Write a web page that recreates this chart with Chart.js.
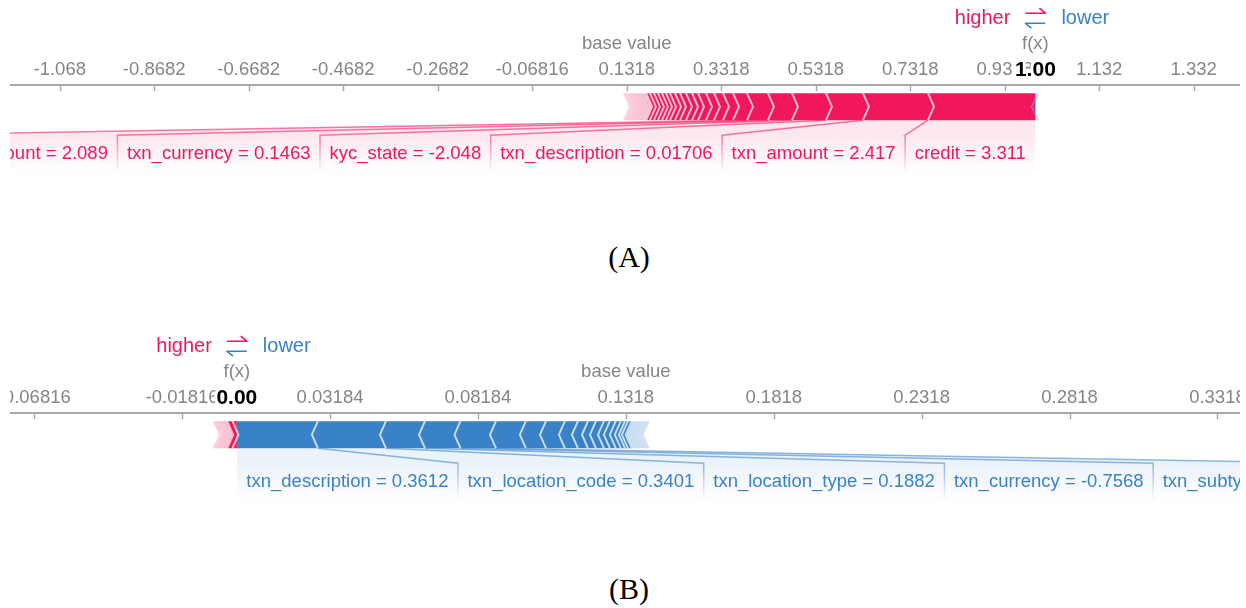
<script src="https://cdn.jsdelivr.net/npm/chart.js@4.4.7/dist/chart.umd.min.js"></script>

<style>
  body { margin: 0; background: #fff; }
  .panel { position: absolute; left: 10px; width: 1230px; height: 190px; }
  .caption { position: absolute; left: 6px; width: 1246px; text-align: center; font: 30px 'Liberation Serif', 'Times New Roman', serif; color: #000; }
</style>

<div class="panel" style="top: 0px"><canvas id="chartA"></canvas></div>
<div class="caption" style="top: 240px">(A)</div>
<div class="panel" style="top: 328px"><canvas id="chartB"></canvas></div>
<div class="caption" style="top: 572px">(B)</div>

<script>
  // ---- panel A data ----
  const baseValueA = 0.13184
  const tickValuesA = [-1.06816, -0.86816, -0.66816, -0.46816, -0.26816, -0.06816, 0.13184, 0.33184, 0.53184, 0.73184, 0.93184, 1.13184, 1.33184]
  const tickLabelsA = ['-1.068', '-0.8682', '-0.6682', '-0.4682', '-0.2682', '-0.06816', '0.1318', '0.3318', '0.5318', '0.7318', '0.9318', '1.132', '1.332']
  // shap values pushing higher, largest first
  const posValuesA = [0.2273, 0.1376, 0.0783, 0.0720, 0.0508, 0.0444, 0.0296, 0.0212, 0.0190, 0.0169, 0.0169, 0.0127, 0.0127, 0.0127, 0.0106, 0.0106, 0.0085, 0.0085, 0.0085, 0.0085, 0.0085, 0.0063, 0.0058, 0.0055, 0.0052, 0.0048, 0.0045, 0.0042, 0.0038, 0.0035, 0.0030, 0.0026, 0.0022, 0.0020, 0.0017, 0.0012, 0.0008]
  const posNamesA = ['credit', 'txn_amount', 'txn_description', 'kyc_state', 'txn_currency', 'txn_base_amount']
  const posFeatureA = ['3.311', '2.417', '0.01706', '-2.048', '0.1463', '2.089']
  const negValuesA = [0.0045, 0.0035]
  const negNamesA = []
  const negFeatureA = []

  // ---- panel B data ----
  const baseValueB = 0.13184
  const tickValuesB = [-0.06816, -0.01816, 0.03184, 0.08184, 0.13184, 0.18184, 0.23184, 0.28184, 0.33184]
  const tickLabelsB = ['-0.06816', '-0.01816', '0.03184', '0.08184', '0.1318', '0.1818', '0.2318', '0.2818', '0.3318']
  const posValuesB = [0.0015, 0.0015, 0.0009, 0.0008, 0.0007, 0.0007, 0.0006, 0.0005, 0.0004, 0.0003, 0.0002]
  const posNamesB = []
  const posFeatureB = []
  const negValuesB = [0.0274, 0.0230, 0.0132, 0.0120, 0.0120, 0.0101, 0.0068, 0.0064, 0.0044, 0.0034, 0.0027, 0.0027, 0.0020, 0.0020, 0.0017, 0.0014, 0.0010, 0.0010, 0.0009, 0.0008, 0.0008, 0.0007, 0.0007, 0.0006, 0.0005, 0.0005, 0.0004, 0.0004, 0.0001]
  const negNamesB = ['txn_description', 'txn_location_code', 'txn_location_type', 'txn_currency', 'txn_subtype']
  const negFeatureB = ['0.3612', '0.3401', '0.1882', '-0.7568', '1.204']

  const RED = '240, 24, 90'
  const BLUE = '58, 130, 200'
  const FONT = "'Liberation Sans', Arial, sans-serif"

  const rgba = (c, a) => `rgba(${c}, ${a})`
  const sum = (arr) => arr.reduce((s, v) => s + v, 0)

  /*
   * Draw the polygon joining a bar segment to its label box, plus its edge line
   */
  function drawBacking(ctx, g, segA, segB, boxA, boxB, lineSeg, lineBox, color) {
    const grad = ctx.createLinearGradient(0, g.yB, 0, g.lblBot)
    const t = (g.lblTop - g.yB) / (g.lblBot - g.yB)
    grad.addColorStop(0, rgba(color, 0.1))
    grad.addColorStop(t, rgba(color, 0.1))
    grad.addColorStop(1, rgba(color, 0))
    ctx.fillStyle = grad
    ctx.beginPath()
    ctx.moveTo(segA, g.yB)
    ctx.lineTo(segB, g.yB)
    ctx.lineTo(boxB, g.lblTop)
    ctx.lineTo(boxB, g.lblBot)
    ctx.lineTo(boxA, g.lblBot)
    ctx.lineTo(boxA, g.lblTop)
    ctx.closePath()
    ctx.fill()

    const lg = ctx.createLinearGradient(0, g.yB, 0, g.lblBot)
    lg.addColorStop(0, rgba(color, 0.6))
    lg.addColorStop(t, rgba(color, 0.55))
    lg.addColorStop(1, rgba(color, 0))
    ctx.strokeStyle = lg
    ctx.lineWidth = 1.5
    ctx.beginPath()
    ctx.moveTo(lineSeg, g.yB)
    ctx.lineTo(lineBox, g.lblTop)
    ctx.lineTo(lineBox, g.lblBot)
    ctx.stroke()
  }

  function makeForcePlugin(p) {
    return {
      id: 'force',
      afterDraw(chart) {
        const ctx = chart.ctx
        const xs = chart.scales.x
        const axisY = chart.chartArea.top
        const g = { yT: axisY + 8, yB: axisY + 35, lblTop: axisY + 50, lblBot: axisY + 88 }
        const yM = (g.yT + g.yB) / 2
        const tip = 6
        const pad = 9.5
        const px = (v) => xs.getPixelForValue(v)
        const fx = p.base + sum(p.pos) - sum(p.neg)
        const fPx = px(fx)

        // blocks: positive go left from f(x), negative go right
        const posBlocks = []
        let edge = fx
        p.pos.forEach((v, i) => {
          posBlocks.push({ a: px(edge - v), b: px(edge), first: i === 0, faded: v < p.fade })
          edge -= v
        })
        const negBlocks = []
        edge = fx
        p.neg.forEach((v, i) => {
          negBlocks.push({ a: px(edge), b: px(edge + v), first: i === 0, faded: v < p.fade })
          edge += v
        })

        ctx.save()

        // label backings
        ctx.font = '18.5px ' + FONT
        const labels = []
        let right = fPx
        p.posNames.forEach((name, i) => {
          const text = name + ' = ' + p.posFeature[i]
          const w = ctx.measureText(text).width + 2 * pad
          const seg = posBlocks[i]
          drawBacking(ctx, g, seg.a, seg.b, right - w, right, seg.a, right - w, RED)
          labels.push({ text, x: right - w + pad, color: RED })
          right -= w
        })
        let left = fPx
        p.negNames.forEach((name, i) => {
          const text = name + ' = ' + p.negFeature[i]
          const w = ctx.measureText(text).width + 2 * pad
          const seg = negBlocks[i]
          drawBacking(ctx, g, seg.a, seg.b, left, left + w, seg.b, left + w, BLUE)
          labels.push({ text, x: left + pad, color: BLUE })
          left += w
        })

        // bar blocks
        posBlocks.forEach((b) => {
          ctx.fillStyle = b.faded ? rgba(RED, 0.3) : rgba(RED, 1)
          ctx.beginPath()
          ctx.moveTo(b.a, g.yT)
          ctx.lineTo(b.b, g.yT)
          if (!b.first) ctx.lineTo(b.b + tip, yM)
          ctx.lineTo(b.b, g.yB)
          ctx.lineTo(b.a, g.yB)
          ctx.lineTo(b.a + tip, yM)
          ctx.closePath()
          ctx.fill()
        })
        negBlocks.forEach((b) => {
          ctx.fillStyle = b.faded ? rgba(BLUE, 0.3) : rgba(BLUE, 1)
          ctx.beginPath()
          ctx.moveTo(b.b, g.yT)
          ctx.lineTo(b.a, g.yT)
          if (!b.first) ctx.lineTo(b.a - tip, yM)
          ctx.lineTo(b.a, g.yB)
          ctx.lineTo(b.b, g.yB)
          ctx.lineTo(b.b - tip, yM)
          ctx.closePath()
          ctx.fill()
        })

        // chevron separators
        const sep = (x, dir, faded) => {
          ctx.strokeStyle = faded ? 'rgba(255,255,255,0.3)' : 'rgba(255,255,255,0.68)'
          ctx.lineWidth = faded ? 1 : 2
          ctx.beginPath()
          ctx.moveTo(x, g.yT)
          ctx.lineTo(x + dir * tip, yM)
          ctx.lineTo(x, g.yB)
          ctx.stroke()
        }
        posBlocks.forEach((b) => { if (!b.first) sep(b.b, 1, b.faded) })
        negBlocks.forEach((b) => { if (!b.first) sep(b.a, -1, b.faded) })

        // tick marks below the axis line
        ctx.strokeStyle = '#a8a8a8'
        ctx.lineWidth = 1.5
        p.ticks.forEach((v) => {
          const x = Math.round(px(v)) + 0.5
          ctx.beginPath()
          ctx.moveTo(x, axisY)
          ctx.lineTo(x, axisY + 6)
          ctx.stroke()
        })

        // label texts
        ctx.textAlign = 'left'
        ctx.textBaseline = 'alphabetic'
        labels.forEach((l) => {
          ctx.fillStyle = rgba(l.color, 1)
          ctx.fillText(l.text, l.x, axisY + 73.5)
        })

        // base value / f(x)
        ctx.textAlign = 'center'
        ctx.textBaseline = 'middle'
        ctx.fillStyle = '#858585'
        ctx.fillText('base value', px(p.base), axisY - 41)
        ctx.fillText('f(x)', fPx, axisY - 41)
        ctx.font = 'bold 21px ' + FONT
        ctx.lineWidth = 6
        ctx.strokeStyle = '#fff'
        ctx.lineJoin = 'round'
        ctx.strokeText(fx.toFixed(2), fPx, axisY - 15)
        ctx.fillStyle = '#000'
        ctx.fillText(fx.toFixed(2), fPx, axisY - 15)

        // higher <-> lower
        ctx.font = '20px ' + FONT
        ctx.textAlign = 'right'
        ctx.fillStyle = rgba(RED, 1)
        ctx.fillText('higher', fPx - 25, axisY - 67)
        ctx.textAlign = 'left'
        ctx.fillStyle = rgba(BLUE, 1)
        ctx.fillText('lower', fPx + 26, axisY - 67)
        ctx.lineWidth = 1.6
        ctx.strokeStyle = rgba(RED, 1)
        ctx.beginPath()
        ctx.moveTo(fPx - 10, axisY - 72)
        ctx.lineTo(fPx + 10, axisY - 72)
        ctx.lineTo(fPx + 4, axisY - 77)
        ctx.stroke()
        ctx.strokeStyle = rgba(BLUE, 1)
        ctx.beginPath()
        ctx.moveTo(fPx + 10, axisY - 62)
        ctx.lineTo(fPx - 10, axisY - 62)
        ctx.lineTo(fPx - 4, axisY - 57)
        ctx.stroke()

        ctx.restore()
      }
    }
  }

  function makeChart(id, p) {
    return new Chart(document.getElementById(id), {
      type: 'scatter',
      data: { datasets: [] },
      options: {
        responsive: true,
        maintainAspectRatio: false,
        animation: false,
        events: [],
        layout: { padding: { top: 55, left: 0, right: 0, bottom: 0 } },
        plugins: { legend: { display: false }, tooltip: { enabled: false } },
        scales: {
          x: {
            type: 'linear',
            position: 'top',
            min: p.min,
            max: p.max,
            afterBuildTicks: (scale) => {
              scale.ticks = p.ticks.map((v) => ({ value: v }))
            },
            afterFit: (scale) => {
              scale.paddingLeft = 0
              scale.paddingRight = 0
            },
            grid: { display: false, drawTicks: false },
            border: { display: true, color: '#a8a8a8', width: 2 },
            ticks: {
              color: '#858585',
              font: { family: FONT, size: 18.5 },
              padding: 4,
              maxRotation: 0,
              autoSkip: false,
              callback: (value, index) => p.tickLabels[index]
            }
          },
          y: { display: false }
        }
      },
      plugins: [makeForcePlugin(p)]
    })
  }

  const chartA = makeChart('chartA', {
    base: baseValueA, pos: posValuesA, neg: negValuesA,
    posNames: posNamesA, posFeature: posFeatureA, negNames: negNamesA, negFeature: negFeatureA,
    ticks: tickValuesA, tickLabels: tickLabelsA, min: -1.1734, max: 1.4298, fade: 0.006
  })

  const chartB = makeChart('chartB', {
    base: baseValueB, pos: posValuesB, neg: negValuesB,
    posNames: posNamesB, posFeature: posFeatureB, negNames: negNamesB, negFeature: negFeatureB,
    ticks: tickValuesB, tickLabels: tickLabelsB, min: -0.07635, max: 0.33947, fade: 0.00095
  })
</script>
